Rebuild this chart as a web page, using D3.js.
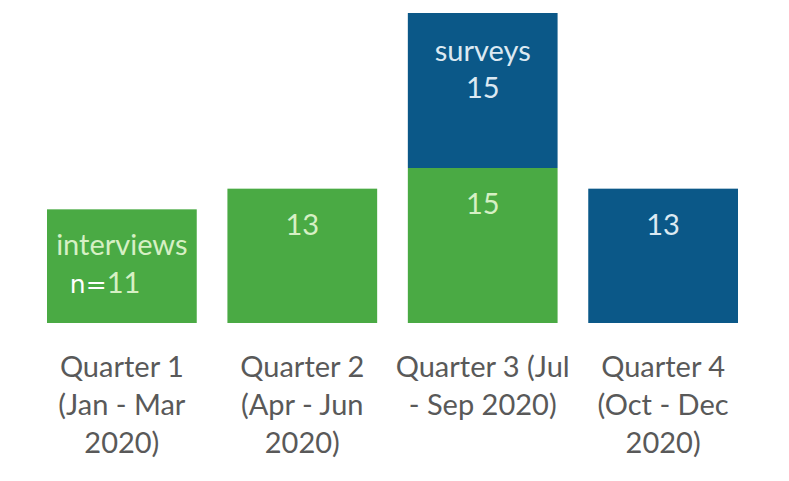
<!DOCTYPE html>
<html><head><meta charset="utf-8">
<script src="https://cdn.jsdelivr.net/npm/d3@7"></script>
<style>html,body{margin:0;padding:0;background:#fff;}svg{display:block;}</style>
</head><body>
<svg id="chart" width="789" height="481"></svg>
<script>
const categories = ["Q1", "Q2", "Q3", "Q4"];
const categoryLabels = [
  ["Quarter 1", "(Jan - Mar", "2020)"],
  ["Quarter 2", "(Apr - Jun", "2020)"],
  ["Quarter 3 (Jul", "- Sep 2020)"],
  ["Quarter 4", "(Oct - Dec", "2020)"]
];
const interviews = [11, 13, 15, 0];
const surveys = [0, 0, 15, 13];
const seriesNames = ["interviews", "surveys"];

const colors = {interviews: "#4aaa44", surveys: "#0b5888"};
const textColors = {interviews: "#d6f0c4", surveys: "#dce9f2"};

const svg = d3.select("#chart");
const baseY = 323, topY = 13;
const x = d3.scaleBand().domain(categories).range([47, 738]).paddingInner(0.17).paddingOuter(0);
const y = d3.scaleLinear().domain([0, 30]).range([baseY, topY]);

const rows = categories.map((c, i) => ({cat: c, interviews: interviews[i], surveys: surveys[i]}));
const stack = d3.stack().keys(seriesNames)(rows);

stack.forEach(layer => {
  svg.append("g").selectAll("rect").data(layer).join("rect")
    .attr("x", d => x(d.data.cat))
    .attr("width", x.bandwidth())
    .attr("y", d => y(d[1]))
    .attr("height", d => y(d[0]) - y(d[1]))
    .attr("fill", colors[layer.key]);
});

const fontFam = "Lato, 'Open Sans', sans-serif";
stack.forEach(layer => {
  layer.forEach((d, i) => {
    const v = d[1] - d[0];
    if (!v) return;
    const cx = x(d.data.cat) + x.bandwidth() / 2;
    const yt = y(d[1]);
    const g = svg.append("g").attr("font-family", fontFam).attr("font-size", 29)
      .attr("fill", textColors[layer.key]).attr("text-anchor", "middle");
    if (i === 0 && layer.key === "interviews") {
      g.append("text").attr("x", cx).attr("y", yt + 46).text("interviews");
      const t = g.append("text").attr("x", cx - 52).attr("y", yt + 84).attr("text-anchor", "start");
      t.append("tspan").attr("fill", "#ffffff").attr("font-family", "'DejaVu Sans', sans-serif").attr("font-size", 25).text("n=");
      t.append("tspan").text(v);
    } else if (i === 2 && layer.key === "surveys") {
      g.append("text").attr("x", cx).attr("y", yt + 48).text("surveys");
      g.append("text").attr("x", cx).attr("y", yt + 85).text(v);
    } else {
      g.append("text").attr("x", cx).attr("y", yt + 46).text(v);
    }
  });
});

const lab = svg.append("g").attr("font-family", fontFam).attr("font-size", 29)
  .attr("fill", "#595959").attr("text-anchor", "middle");
categories.forEach((c, i) => {
  const t = lab.append("text").attr("x", x(c) + x.bandwidth() / 2).attr("y", 377);
  categoryLabels[i].forEach((line, j) => {
    t.append("tspan").attr("x", x(c) + x.bandwidth() / 2).attr("dy", j === 0 ? 0 : 38).text(line);
  });
});
</script>
</body></html>
